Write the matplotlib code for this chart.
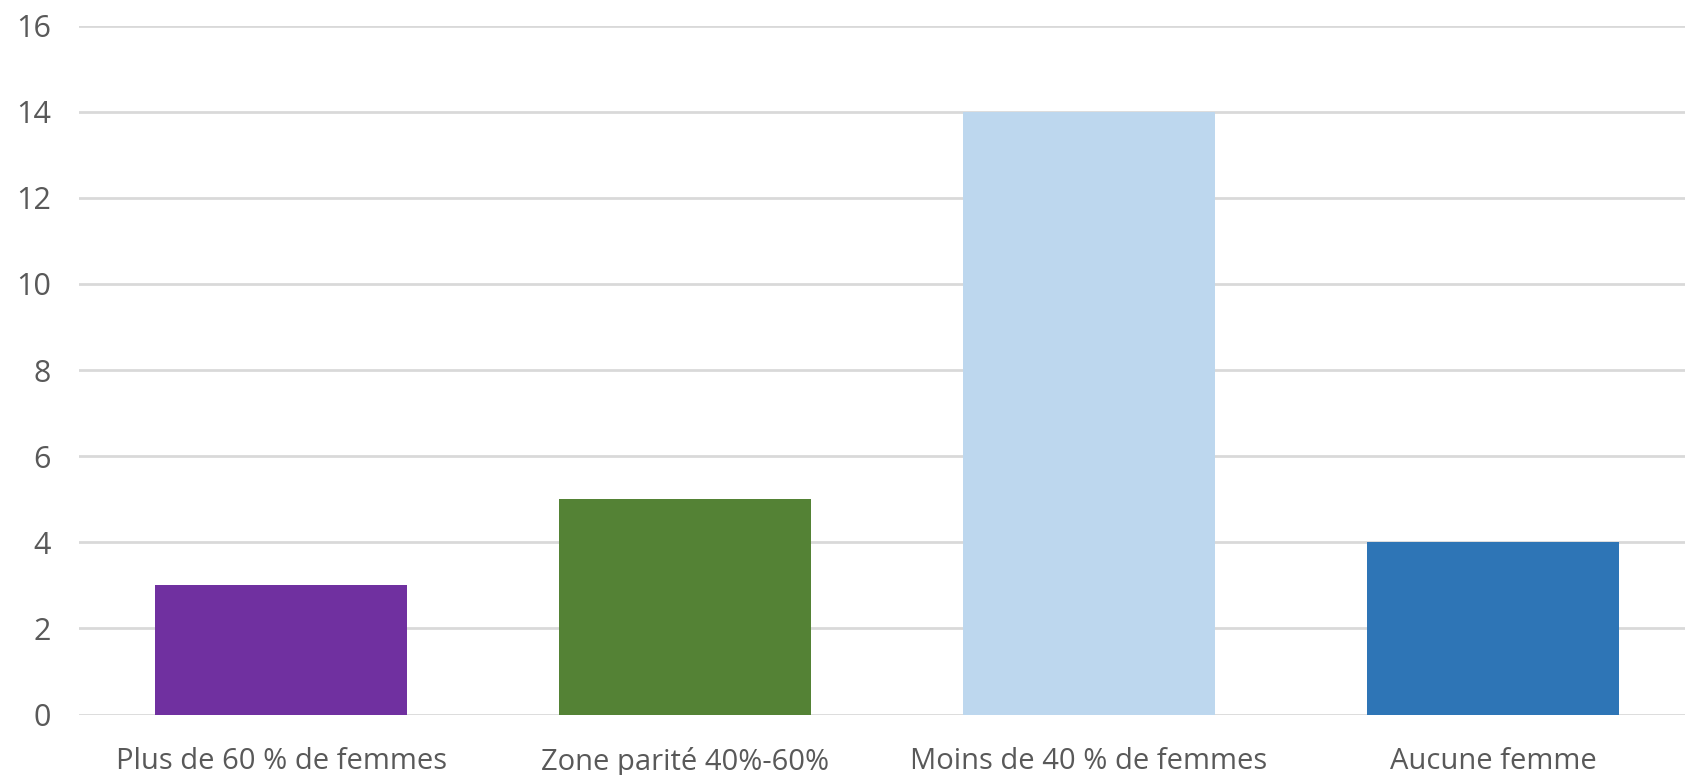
import matplotlib

matplotlib.use("Agg")
import matplotlib.pyplot as plt

categories = [
    "Plus de 60 % de femmes",
    "Zone parité 40%-60%",
    "Moins de 40 % de femmes",
    "Aucune femme",
]
counts = [3, 5, 14, 4]
colors = ["#7030A0", "#548235", "#BDD7EE", "#2E75B6"]
y_ticks = list(range(0, 17, 2))

plt.rcParams["font.family"] = ["Open Sans", "DejaVu Sans"]

fig = plt.figure(figsize=(16.85, 7.75), dpi=100)
ax = fig.add_axes([79 / 1685, 60.4 / 775, 1616 / 1685, 689 / 775])

x = range(len(categories))
ax.bar(x, counts, width=0.625, color=colors, zorder=3)

ax.set_xlim(-0.5, len(categories) - 0.5)
ax.set_ylim(0, 16)
ax.set_yticks(y_ticks)
ax.set_xticks(list(x))
ax.set_xticklabels(categories)
ax.yaxis.grid(True, color="#D9D9D9", linewidth=2, zorder=0)
ax.set_axisbelow(True)
for side in ax.spines.values():
    side.set_visible(False)
ax.tick_params(axis="y", length=0, pad=20, labelsize=22, labelcolor="#595959")
ax.tick_params(axis="x", length=0, pad=23, labelsize=21, labelcolor="#595959")

fig.savefig("out.png", dpi=100)
